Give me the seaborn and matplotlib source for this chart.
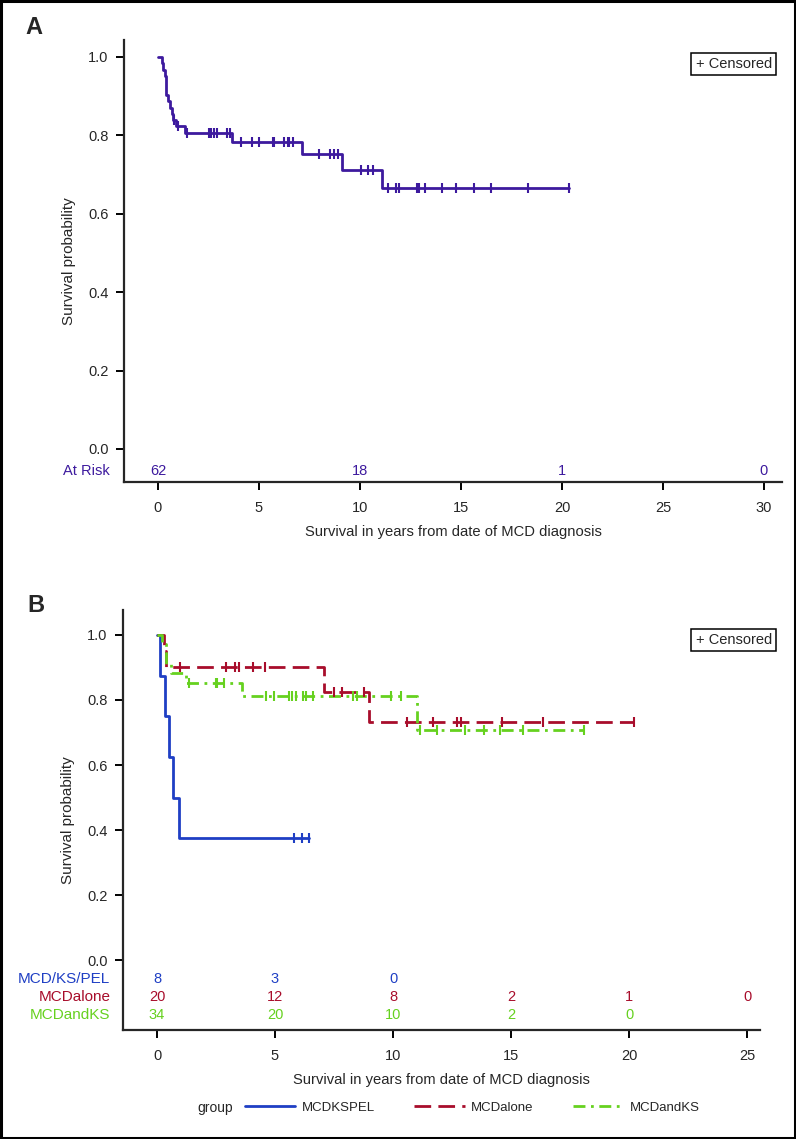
# %%
import matplotlib
matplotlib.use("Agg")
import matplotlib.pyplot as plt
import seaborn as sns
import numpy as np
from matplotlib.patches import Rectangle
from matplotlib.lines import Line2D

# ---- panel A: all patients (KM) ----
a_event_t = [0.18, 0.26, 0.35, 0.40, 0.48, 0.59, 0.68, 0.76, 0.89, 1.34, 3.65, 7.11, 9.10, 11.08]
a_surv = [0.984, 0.968, 0.952, 0.903, 0.887, 0.871, 0.855, 0.839, 0.823, 0.806, 0.784, 0.753, 0.712, 0.667]
a_cens_t = [0.81, 1.0, 1.42, 2.54, 2.61, 2.79, 2.94, 3.43, 3.56, 4.09, 4.64, 5.02, 5.68, 5.76,
            6.24, 6.42, 6.50, 6.70, 7.97, 8.51, 8.71, 8.93, 10.03, 10.41, 10.66, 11.37, 11.78,
            11.93, 12.84, 12.91, 13.20, 14.06, 14.75, 15.64, 16.50, 18.30, 20.35]
a_risk_t = [0, 10, 20, 30]
a_risk_n = [62, 18, 1, 0]

# ---- panel B: by group ----
groups = ["MCDKSPEL", "MCDalone", "MCDandKS"]
risk_labels = ["MCD/KS/PEL", "MCDalone", "MCDandKS"]

pel_event_t = [0.13, 0.34, 0.51, 0.68, 0.93]
pel_surv = [0.875, 0.75, 0.625, 0.5, 0.375]
pel_cens_t = [5.82, 6.14, 6.45]

alone_event_t = [0.31, 0.40, 7.08, 8.98]
alone_surv = [0.95, 0.90, 0.825, 0.733]
alone_cens_t = [0.97, 2.92, 3.31, 3.49, 4.06, 4.58, 7.50, 7.85, 8.75, 10.6, 11.71,
                12.7, 12.88, 14.6, 16.37, 20.2]

ks_event_t = [0.22, 0.37, 0.58, 1.22, 3.61, 11.03]
ks_surv = [0.971, 0.912, 0.882, 0.853, 0.812, 0.708]
ks_cens_t = [1.37, 2.49, 2.56, 2.84, 4.6, 4.96, 5.59, 5.71, 5.88, 6.2, 6.3, 6.62, 8.32,
             8.46, 9.92, 10.34, 11.14, 11.85, 13.05, 13.86, 14.53, 15.5, 18.1]

b_risk_t = [0, 5, 10, 15, 20, 25]
pel_risk = [8, 3, 0]
alone_risk = [20, 12, 8, 2, 1, 0]
ks_risk = [34, 20, 10, 2, 0]

purple = "#3D1A9E"
colors = ["#1F3FC4", "#A80D2B", "#66D11F"]
styles = ["-", (0, (6.0, 2.6)), (0, (4.3, 2.0, 1.0, 2.0))]

sns.set_style("ticks")
plt.rcParams["font.family"] = ["Liberation Sans", "DejaVu Sans"]
narrow = ["Liberation Sans", "DejaVu Sans"]

W, H = 796, 1139
fig = plt.figure(figsize=(W / 100, H / 100), dpi=100)


def px_axes(left, top, right, bottom):
    return fig.add_axes([left / W, 1 - bottom / H, (right - left) / W, (bottom - top) / H])


def km_steps(event_t, surv, cens_t):
    t = [0.0] + list(event_t)
    s = [1.0] + list(surv)
    if max(cens_t) > t[-1]:
        t.append(max(cens_t))
        s.append(s[-1])
    idx = np.searchsorted(t, cens_t, side="right") - 1
    cy = np.array(s)[idx]
    return t, s, cy


def draw_km(ax, event_t, surv, cens_t, color, ls, label=None):
    t, s, cy = km_steps(event_t, surv, cens_t)
    sns.lineplot(x=t, y=s, ax=ax, color=color, linestyle=ls, linewidth=2.0,
                 drawstyle="steps-post", estimator=None, sort=False, label=label, legend=False)
    sns.scatterplot(x=cens_t, y=cy, ax=ax, marker="|", s=50, color=color,
                    linewidth=1.5, legend=False, zorder=3)


def style_axes(ax, xmax_tick, box_y):
    sns.despine(ax=ax)
    for sp in ["left", "bottom"]:
        ax.spines[sp].set_linewidth(1.6)
    ax.set_yticks([0, 0.2, 0.4, 0.6, 0.8, 1.0])
    ax.set_yticklabels(["0.0", "0.2", "0.4", "0.6", "0.8", "1.0"])
    ax.set_xticks(np.arange(0, xmax_tick + 1, 5))
    ax.tick_params(axis="both", length=6, width=1.4, labelsize=10.5, color="black")
    ax.tick_params(axis="x", pad=8)
    ax.tick_params(axis="y", pad=5)
    ax.set_ylabel("Survival probability", fontsize=11, family=narrow, labelpad=9)
    ax.set_xlabel("Survival in years from date of MCD diagnosis", fontsize=10.6,
                  family=narrow, labelpad=7)
    fig.text(772 / W, 1 - box_y / H, "+ Censored", ha="right", va="center", fontsize=10.5,
             bbox=dict(boxstyle="square,pad=0.3", fc="white", ec="black", lw=1.1))


# ---- panel A ----
axA = px_axes(124, 40, 782, 482)
draw_km(axA, a_event_t, a_surv, a_cens_t, purple, "-")
axA.set_xlim((124 - 158) / 20.2, (782 - 158) / 20.2)
axA.set_ylim(-(482 - 449) / 392, 1 + 17 / 392)
style_axes(axA, 30, 64)
risk_yA = -(471 - 449) / 392
for t, n in zip(a_risk_t, a_risk_n):
    axA.text(t, risk_yA, str(n), ha="center", va="center", color=purple, fontsize=10.5)
axA.text(-0.022, risk_yA, "At Risk", transform=axA.get_yaxis_transform(), ha="right",
         va="center", color=purple, fontsize=10.5)
fig.text(25 / W, 1 - 28 / H, "A", fontsize=17, fontweight="bold", va="center", ha="left")

# ---- panel B ----
axB = px_axes(123, 610, 760, 1030)
b_data = [(pel_event_t, pel_surv, pel_cens_t), (alone_event_t, alone_surv, alone_cens_t),
          (ks_event_t, ks_surv, ks_cens_t)]
for (et, sv, ct), c, ls, g in zip(b_data, colors, styles, groups):
    draw_km(axB, et, sv, ct, c, ls, label=g)
axB.set_xlim((123 - 157) / 23.6, (760 - 157) / 23.6)
axB.set_ylim(-(1030 - 960) / 326, 1 + (635 - 610) / 326)
style_axes(axB, 25, 640)
b_risk = [pel_risk, alone_risk, ks_risk]
row_y = [979, 997, 1015]
for lab, counts, c, ry in zip(risk_labels, b_risk, colors, row_y):
    yv = -(ry - 960) / 326
    for t, n in zip(b_risk_t, counts):
        axB.text(t, yv, str(n), ha="center", va="center", color=c, fontsize=10.5)
    axB.text(-0.02, yv, lab, transform=axB.get_yaxis_transform(), ha="right",
             va="center", color=c, fontsize=11)
fig.text(27 / W, 1 - 606 / H, "B", fontsize=17, fontweight="bold", va="center", ha="left")

# ---- legend ----
handles = [Line2D([], [], color=c, linestyle=ls, linewidth=2.0) for c, ls in zip(colors, styles)]
fig.text(233 / W, 1 - 1108 / H, "group", ha="right", va="center", fontsize=10, family=narrow)
fig.legend(handles, groups, loc="center left", bbox_to_anchor=(245 / W, 1 - 1108 / H), ncol=3,
           frameon=False, handlelength=3.8, handletextpad=0.5, borderpad=0,
           borderaxespad=0, columnspacing=3.0,
           prop={"family": narrow, "size": 9.5})

fig.patches.append(Rectangle((0.001, 0.001), 0.998, 0.998, transform=fig.transFigure,
                             fill=False, ec="black", lw=2.2))

plt.savefig("out.png", dpi=100)
